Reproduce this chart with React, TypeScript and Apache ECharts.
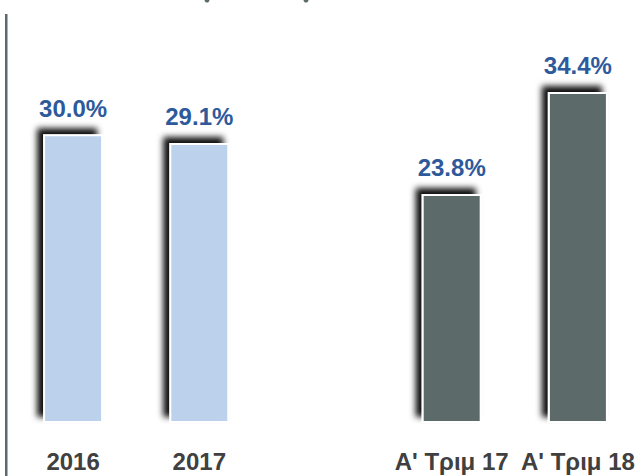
import React, { useEffect, useRef } from "react";
import * as echarts from "echarts";

const categories = ["2016", "2017", "", "A' Τριμ 17", "A' Τριμ 18"];
const values: (number | null)[] = [30.0, 29.1, null, 23.8, 34.4];
const barColors = ["#BCD2EC", "#BCD2EC", "#BCD2EC", "#5D6A6A", "#5D6A6A"];

export default function App() {
  const ref = useRef<HTMLDivElement>(null);
  useEffect(() => {
    document.body.style.margin = "0";
    const chart = echarts.init(ref.current!, null, { renderer: "svg" });
    chart.setOption({
      animation: false,
      backgroundColor: "#ffffff",
      grid: { left: 10, right: 2, top: 38, bottom: 53 },
      xAxis: {
        type: "category",
        data: categories,
        axisLine: { show: false },
        axisTick: { show: false },
        axisLabel: {
          interval: 0,
          margin: 26,
          color: "#404040",
          fontFamily: "Liberation Sans",
          fontWeight: "bold",
          fontSize: 24,
        },
      },
      yAxis: {
        type: "value",
        min: 0,
        max: 40,
        show: false,
        splitLine: { show: false },
      },
      graphic: [
        { type: "rect", shape: { x: 5, y: 14, width: 2.5, height: 470 }, style: { fill: "#5B6A6A" } },
        { type: "circle", shape: { cx: 207, cy: 0, r: 2.5 }, style: { fill: "#5B6A6A" } },
        { type: "circle", shape: { cx: 306, cy: 0, r: 2.5 }, style: { fill: "#5B6A6A" } },
      ],
      series: [
        {
          type: "bar",
          barWidth: 60,
          data: values.map((v, i) => ({
            value: v === null ? "-" : v,
            itemStyle: {
              color: barColors[i],
              borderColor: "#ffffff",
              borderWidth: 2,
              shadowColor: "rgba(0,0,0,0.95)",
              shadowBlur: 6,
              shadowOffsetX: -6,
              shadowOffsetY: -6,
            },
          })),
          label: {
            show: true,
            position: "top",
            distance: 14,
            color: "#2E5A9C",
            fontFamily: "Liberation Sans",
            fontWeight: "bold",
            fontSize: 24,
            formatter: (p: any) => Number(p.value).toFixed(1) + "%",
          },
        },
      ],
    });
    return () => chart.dispose();
  }, []);
  return <div ref={ref} style={{ width: 643, height: 476 }} />;
}
